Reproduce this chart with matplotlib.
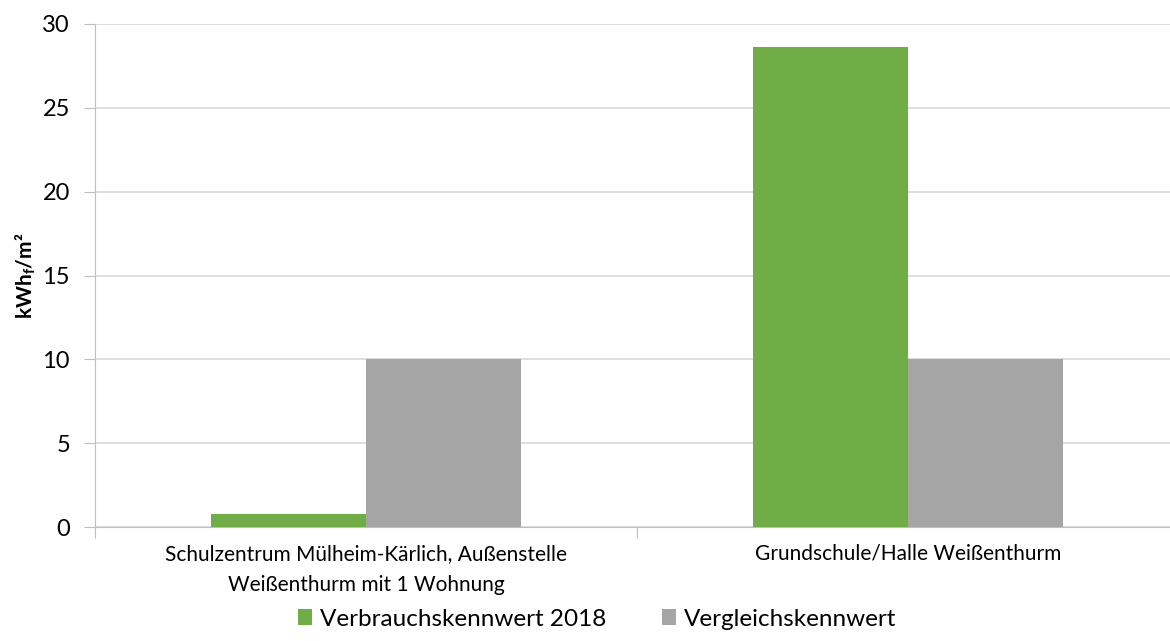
import matplotlib
matplotlib.use("Agg")
import matplotlib.pyplot as plt
import numpy as np

categories = ["Schulzentrum Mülheim-Kärlich, Außenstelle\nWeißenthurm mit 1 Wohnung",
              "Grundschule/Halle Weißenthurm"]
verbrauch = [0.78, 28.6]
vergleich = [10, 10]
series_names = ["Verbrauchskennwert 2018", "Vergleichskennwert"]
yticks = [0, 5, 10, 15, 20, 25, 30]

plt.rcParams['font.family'] = ['Lato', 'DejaVu Sans']

fig = plt.figure(figsize=(11.7, 6.41), dpi=100)
W, H = 1170, 641
left, right, top, bottom = 95, 1179, 24, 527
ax = fig.add_axes([left / W, 1 - bottom / H, (right - left) / W, (bottom - top) / H])

x = np.arange(len(categories))
bw = 0.286
ax.bar(x - bw / 2, verbrauch, width=bw, color="#70ad47", label=series_names[0], zorder=3)
ax.bar(x + bw / 2, vergleich, width=bw, color="#a5a5a5", label=series_names[1], zorder=3)

ax.set_xlim(-0.5, 1.5)
ax.set_ylim(0, 30)
ax.set_yticks(yticks)
ax.yaxis.grid(True, color="#d9d9d9", linewidth=1.2, zorder=0)
for s in ["top", "right"]:
    ax.spines[s].set_visible(False)
ax.spines["left"].set_color("#bfbfbf")
ax.spines["bottom"].set_color("#bfbfbf")
ax.tick_params(axis="y", length=8, color="#bfbfbf", labelsize=17, pad=10)
ax.set_xticks([-0.5, 0.5, 1.5])
ax.set_xticklabels([])
ax.set_xticks(x, minor=True)
ax.set_xticklabels(categories, minor=True, fontsize=15, linespacing=1.7)
ax.tick_params(axis="x", which="major", length=8, color="#bfbfbf", direction="out")
ax.tick_params(axis="x", which="minor", length=0, pad=12)

ax.set_ylabel("kWh$_\\mathregular{f}$/m²", fontsize=15, fontweight="bold", labelpad=3)

fig.legend(loc="center", bbox_to_anchor=(597 / W, 1 - 619 / H), ncol=2, frameon=False,
           fontsize=17.5, handlelength=0.6, handleheight=0.6, handletextpad=0.3, columnspacing=2.3)

fig.savefig("out.png", dpi=100)
